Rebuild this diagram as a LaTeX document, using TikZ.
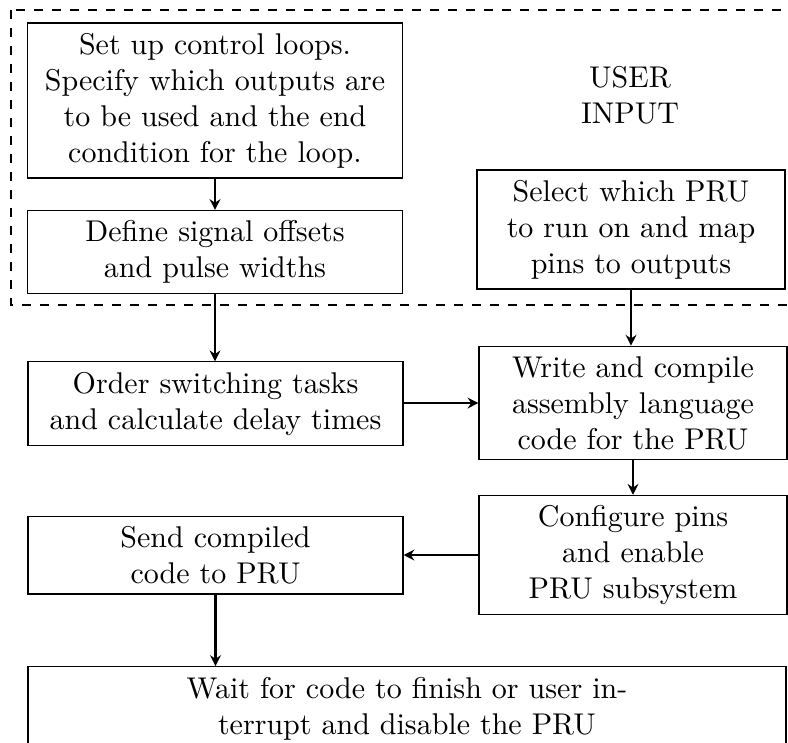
\documentclass[tikz,border=0pt]{standalone}
\usetikzlibrary{arrows.meta}
\begin{document}
\begin{tikzpicture}[x=0.33333pt,y=-0.33333pt,
  box/.style={draw, line width=0.4pt, align=center, inner sep=3.33pt},
  lbox/.style={box, text width=118.3pt},
  rbox/.style={box, text width=96pt},
  arr/.style={-{Stealth[length=3.6pt,width=3.6pt,inset=1.2pt]}, line width=0.7pt}]
\useasboundingbox (0,0) rectangle (788,742);
\clip (0,0) rectangle (788,742);
\draw[dashed, line width=0.7pt] (11,10) rectangle (830,305);
\node[align=center] (user) at (630,95) {USER\\INPUT};
\node[lbox, minimum height=51pt] (setup) at (215,100.5) {Set up control loops.\\Specify which outputs are\\to be used and the end\\condition for the loop.};
\node[lbox, minimum height=27.3pt] (define) at (215,252) {Define signal offsets\\and pulse widths};
\node[rbox, minimum height=39pt] (select) at (631,229.5) {Select which PRU\\to run on and map\\pins to outputs};
\node[lbox, minimum height=27pt] (order) at (215.5,403.5) {Order switching tasks\\and calculate delay times};
\node[rbox, minimum height=37.3pt] (write) at (633,403) {Write and compile\\assembly language\\code for the PRU};
\node[rbox, minimum height=39.3pt] (config) at (633,555) {Configure pins\\and enable\\PRU subsystem};
\node[lbox, minimum height=25.3pt] (send) at (215.5,555) {Send compiled\\code to PRU};
\node[box, anchor=north, minimum width=252.7pt, text width=165pt, minimum height=28pt] (wait) at (407,666) {Wait for code to finish or user in-\\terrupt and disable the PRU};
\draw[arr] (setup) -- (define);
\draw[arr] (define.south) -- (define.south |- order.north);
\draw[arr] (select) -- (select |- write.north);
\draw[arr] (order.east |- write) -- (write.west);
\draw[arr] (write) -- (config);
\draw[arr] (config.west) -- (send.east |- config);
\draw[arr] (send) -- (send |- wait.north);
\end{tikzpicture}
\end{document}
